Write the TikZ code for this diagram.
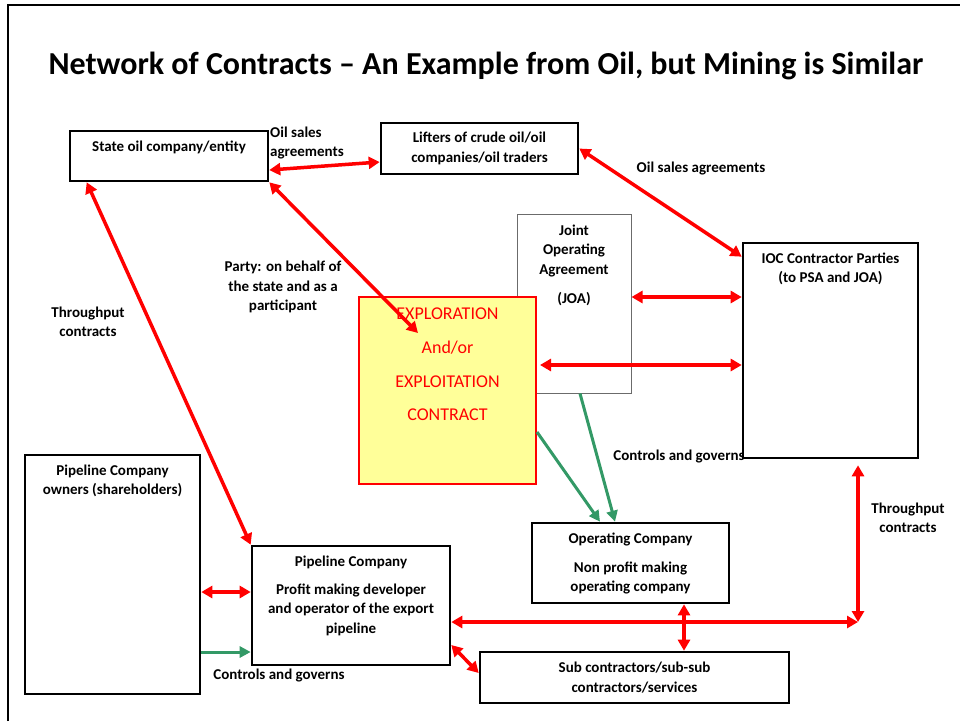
\documentclass[tikz,border=0pt]{standalone}
\usepackage{fontspec}
\setmainfont{Carlito}
\usetikzlibrary{arrows.meta, positioning}
\definecolor{cred}{HTML}{FF0000}
\definecolor{cgreen}{HTML}{339966}
\definecolor{cyellow}{HTML}{FFFF99}
\definecolor{cgrey}{HTML}{6B6B6B}
\tikzset{
  every picture/.style={font=\bfseries\fontsize{15}{19.5}\selectfont},
  box/.style={draw=#1, line width=2.6pt, align=center, inner sep=0pt},
  box/.default=black,
  titled/.style={label={[note, anchor=north, yshift=-11pt]north:{#1}}},
  arrow/.style={{Triangle[length=11pt, width=12pt]}-{Triangle[length=11pt, width=12pt]}, draw=cred, line width=3.5pt},
  govern/.style={-{Triangle[length=11pt, width=11pt]}, draw=cgreen, line width=3pt},
  note/.style={align=center, inner sep=0pt},
}

\begin{document}
\begin{tikzpicture}[x=1pt, y=-1pt,
  contract/.style={box=cred, line width=2pt, fill=cyellow},
  contracttext/.style={note, text=cred, anchor=north, yshift=-12pt, font=\mdseries\fontsize{18}{33.7}\selectfont}]
  \useasboundingbox (0,0) rectangle (960,721);
  \draw[line width=2pt] (8,721) -- (8,5) -- (960,5);
  \node[font=\bfseries\fontsize{32}{38}\selectfont] (title) at (486,66) {Network of Contracts – An Example from Oil, but Mining is Similar};
  \node[box, titled={State oil company/entity}, minimum width=198pt, minimum height=50pt] (state) at (169,156) {};
  \node[box, minimum width=197pt, minimum height=51pt] (lifters) at (479.5,148.5) {Lifters of crude oil/oil\\companies/oil traders};
  \node[box=cgrey, line width=1pt, titled={Joint\\Operating\\Agreement\\[9.5pt](JOA)}, minimum width=114pt, minimum height=179pt] (joa) at (574,303.5) {};
  \node[box, titled={IOC Contractor Parties\\(to PSA and JOA)}, minimum width=175pt, minimum height=215pt] (ioc) at (830.5,350.5) {};
  \node[contract, minimum width=177pt, minimum height=187pt, label={[contracttext]north:{EXPLORATION\\And/or\\EXPLOITATION\\CONTRACT}}] (expl) at (447.5,390.5) {};
  \node[box, titled={Pipeline Company\\owners (shareholders)}, minimum width=175pt, minimum height=239pt] (owners) at (112.5,574.5) {};
  \node[box, titled={Pipeline Company\\[8.5pt]Profit making developer\\and operator of the export\\pipeline}, minimum width=198pt, minimum height=119pt] (pc) at (351,605.5) {};
  \node[box, titled={Operating Company\\[9.5pt]Non profit making\\operating company}, minimum width=197pt, minimum height=80pt] (opco) at (630.5,563) {};
  \node[box, minimum width=309pt, minimum height=51pt] (subc) at (634.5,677.5) {Sub contractors/sub-sub\\contractors/services};

  \node[note, align=left, anchor=north west] (sales1) at (270,126.5) {Oil sales\\agreements};
  \node[note] (sales2) at (701,169) {Oil sales agreements};
  \node[note] (party) at (283,287) {Party: on behalf of\\the state and as a\\participant};
  \foreach \x/\y [count=\i] in {88/322, 908/518}
    \node[note] (thru\i) at (\x,\y) {Throughput\\contracts};
  \foreach \x/\y [count=\i] in {279/675, 679/456}
    \node[note] (ctrl\i) at (\x,\y) {Controls and governs};

  \coordinate (partyend) at (418,333);
  \coordinate (corner) at (858,622);
  \draw[arrow] ([yshift=-14pt]state.east) -- ([yshift=-13.5pt]lifters.west);
  \draw[arrow] (lifters.east) -- ([yshift=-15pt]ioc.north west);
  \draw[arrow] ([yshift=6.5pt]joa.east) -- ([yshift=53.5pt]ioc.west);
  \draw[arrow] ([xshift=3pt, yshift=25.5pt]expl.east) -- ([yshift=-14.5pt]ioc.west);
  \draw[arrow] (state.south east) -- (partyend);
  \draw[arrow] ([xshift=18pt]state.south west) -- (pc.north west);
  \draw[arrow] ([yshift=-17.5pt]owners.east) -- ([yshift=13.5pt]pc.west);
  \draw[govern] ([yshift=-77.5pt]owners.east) -- ([yshift=-46.5pt]pc.west);
  \draw[govern] ([yshift=-41.5pt]expl.east) -- ([xshift=-30.5pt]opco.north);
  \draw[govern] ([xshift=6pt]joa.south) -- ([xshift=-15.5pt]opco.north);
  \draw[arrow] ([yshift=-16.5pt]pc.east) -- (corner);
  \draw[arrow] (corner) -- ([xshift=27.5pt, yshift=-6pt]ioc.south);
  \draw[arrow] ([xshift=53.5pt]opco.south) -- ([xshift=49.5pt]subc.north);
  \draw[arrow] ([yshift=-39.5pt]pc.east) -- ([yshift=4.5pt]subc.west);
\end{tikzpicture}
\end{document}
